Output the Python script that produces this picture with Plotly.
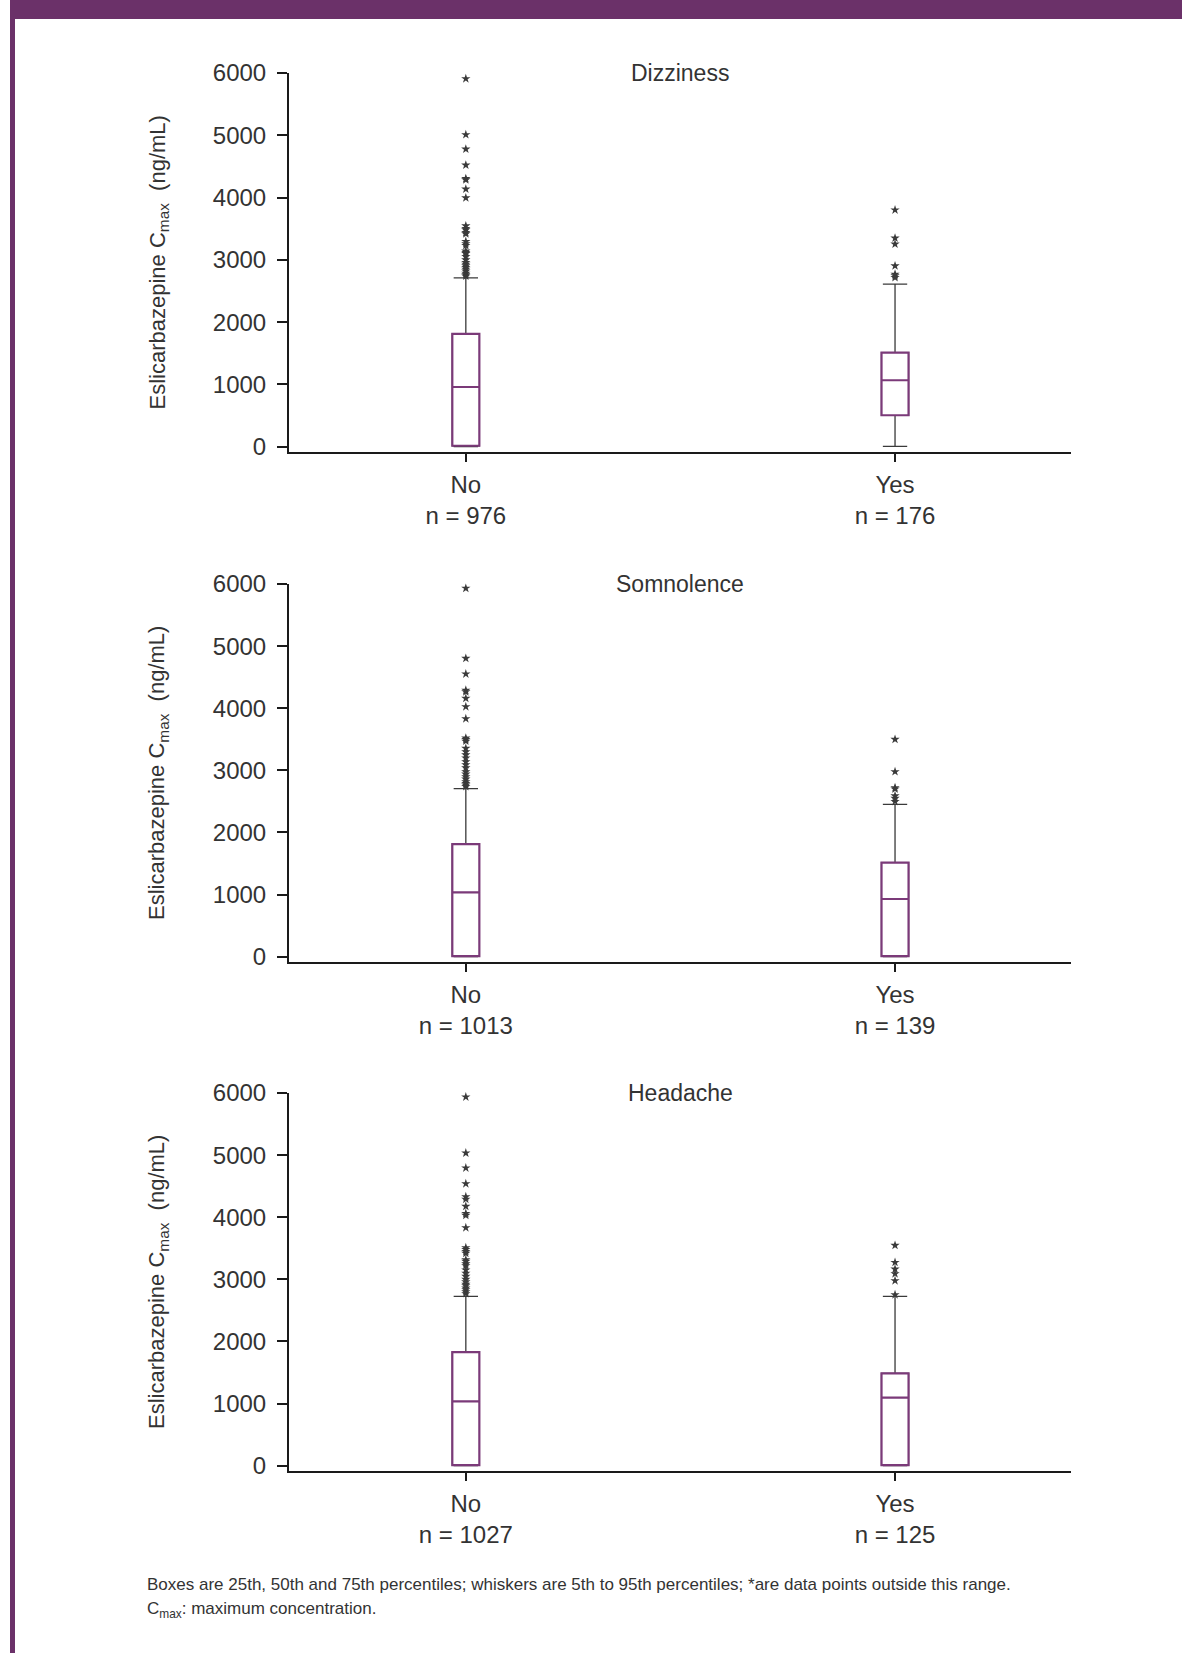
import plotly.graph_objects as go

W, H = 1182, 1653

# ---------------- data ----------------
panel_titles = ["Dizziness", "Somnolence", "Headache"]
groups = ["No", "Yes"]
n_counts = [[976, 176], [1013, 139], [1027, 125]]

# box statistics (ng/mL): [No, Yes] for each panel
p05 = [[0, 5], [0, 0], [0, 0]]
q1 = [[15, 505], [10, 10], [10, 10]]
median = [[959, 1067], [1036, 929], [1035, 1095]]
q3 = [[1811, 1511], [1814, 1514], [1830, 1487]]
p95 = [[2711, 2610], [2705, 2453], [2726, 2726]]

# points outside the 5th-95th percentile range
dizziness_no_out = [5909, 5010, 4779, 4522, 4305, 4285, 4136, 3996, 3546, 3505, 3482,
                    3440, 3418, 3295, 3260, 3230, 3140, 3118, 3100, 3054, 3000, 2957,
                    2930, 2904, 2878, 2850, 2820, 2786, 2760, 2740]
dizziness_yes_out = [3801, 3349, 3253, 2904, 2770, 2745, 2716]
somnolence_no_out = [5931, 4804, 4552, 4290, 4265, 4160, 4025, 3832, 3520, 3495, 3470,
                     3355, 3301, 3250, 3200, 3140, 3090, 3040, 2979, 2940, 2898, 2860,
                     2818, 2790, 2764, 2740]
somnolence_yes_out = [3500, 2979, 2720, 2700, 2590, 2550, 2500]
headache_no_out = [5936, 5034, 4793, 4540, 4330, 4290, 4176, 4060, 4030, 3832, 3510,
                   3480, 3450, 3420, 3317, 3290, 3250, 3220, 3150, 3100, 3049, 3000,
                   2960, 2920, 2898, 2860, 2834, 2800, 2770]
headache_yes_out = [3547, 3273, 3166, 3091, 2978, 2753]
outliers = [[dizziness_no_out, dizziness_yes_out],
            [somnolence_no_out, somnolence_yes_out],
            [headache_no_out, headache_yes_out]]

y_ticks = [0, 1000, 2000, 3000, 4000, 5000, 6000]

# ---------------- style ----------------
FONT = "Liberation Sans, Arial, Helvetica, sans-serif"
TXT = "#333333"
PURPLE = "#6b3169"
BOXC = "#7b3a79"
GREY = "#3a3a3a"

top_px = [73, 584, 1093]
bot_px = [452, 962, 1471]
x_left, x_right = 289, 1071

fig = go.Figure()
layout = dict(
    width=W, height=H, autosize=False,
    margin=dict(l=0, r=0, t=0, b=0, pad=0, autoexpand=False),
    paper_bgcolor="white", plot_bgcolor="white",
    showlegend=False, font=dict(family=FONT, color=TXT, size=24),
    boxmode="overlay",
)
annotations = []

for i in range(3):
    xa = "x" if i == 0 else f"x{i+1}"
    ya = "y" if i == 0 else f"y{i+1}"
    for j in range(2):
        xpos = j
        # whiskers (grey)
        fig.add_trace(go.Box(
            x=[xpos], q1=[q1[i][j]], median=[median[i][j]], q3=[q3[i][j]],
            lowerfence=[p05[i][j]], upperfence=[p95[i][j]],
            width=0.063, whiskerwidth=0.9, boxpoints=False,
            line=dict(color=GREY, width=1.3), fillcolor="white",
            xaxis=xa, yaxis=ya, hoverinfo="skip"))
        # box (purple)
        fig.add_trace(go.Box(
            x=[xpos], q1=[q1[i][j]], median=[median[i][j]], q3=[q3[i][j]],
            lowerfence=[q1[i][j]], upperfence=[q3[i][j]],
            width=0.063, whiskerwidth=0, boxpoints=False,
            line=dict(color=BOXC, width=2.2), fillcolor="white",
            xaxis=xa, yaxis=ya, hoverinfo="skip"))
        # outliers
        fig.add_trace(go.Scatter(
            x=[xpos] * len(outliers[i][j]), y=outliers[i][j], mode="markers",
            marker=dict(symbol="star", size=7, color=GREY, line=dict(width=0)),
            xaxis=xa, yaxis=ya, hoverinfo="skip", cliponaxis=False))

    ydom = [1 - bot_px[i] / H, 1 - top_px[i] / H]
    xkey = "xaxis" if i == 0 else f"xaxis{i+1}"
    ykey = "yaxis" if i == 0 else f"yaxis{i+1}"
    layout[xkey] = dict(
        domain=[x_left / W, x_right / W], range=[-0.412, 1.41], anchor=ya,
        tickmode="array", tickvals=[0, 1],
        ticktext=[f"{g}<br>n = {n}" for g, n in zip(groups, n_counts[i])],
        showline=True, linecolor="#1a1a1a", linewidth=2,
        ticks="outside", ticklen=8, tickwidth=2, tickcolor="#1a1a1a",
        ticklabelstandoff=2, automargin=False,
        showgrid=False, zeroline=False, tickfont=dict(size=24, color=TXT),
        fixedrange=True)
    layout[ykey] = dict(
        domain=ydom, range=[-85, 6000], anchor=xa,
        tickmode="array", tickvals=y_ticks,
        showline=True, linecolor="#1a1a1a", linewidth=2,
        ticks="outside", ticklen=10, tickwidth=2, tickcolor="#1a1a1a",
        ticklabelstandoff=6, automargin=False,
        showgrid=False, zeroline=False, tickfont=dict(size=24, color=TXT),
        fixedrange=True)

    annotations.append(dict(
        text=panel_titles[i], xref="paper", yref="paper",
        x=(x_left + x_right) / 2 / W, y=1 - top_px[i] / H,
        xanchor="center", yanchor="middle", showarrow=False,
        font=dict(size=23, color=TXT, family=FONT)))
    annotations.append(dict(
        text="Eslicarbazepine C<sub>max</sub>  (ng/mL)", xref="paper", yref="paper",
        x=158 / W, y=1 - (top_px[i] + bot_px[i]) / 2 / H,
        xanchor="center", yanchor="middle", textangle=-90, showarrow=False,
        font=dict(size=22, color=TXT, family=FONT)))

annotations.append(dict(
    text="Boxes are 25th, 50th and 75th percentiles; whiskers are 5th to 95th percentiles; *are data points outside this range.",
    xref="paper", yref="paper", x=145 / W, y=1 - 1584 / H,
    xanchor="left", yanchor="middle", showarrow=False,
    font=dict(size=17, color=TXT, family=FONT)))
annotations.append(dict(
    text="C<sub>max</sub>: maximum concentration.",
    xref="paper", yref="paper", x=145 / W, y=1 - 1610 / H,
    xanchor="left", yanchor="middle", showarrow=False,
    font=dict(size=17, color=TXT, family=FONT)))

layout["annotations"] = annotations
layout["shapes"] = [
    dict(type="rect", xref="paper", yref="paper", x0=10 / W, x1=1, y0=1 - 19 / H, y1=1,
         fillcolor=PURPLE, line=dict(width=0), layer="below"),
    dict(type="rect", xref="paper", yref="paper", x0=10 / W, x1=15 / W, y0=0, y1=1,
         fillcolor=PURPLE, line=dict(width=0), layer="below"),
]

fig.update_layout(**layout)

pin_js = (
    "document.documentElement.style.margin='0';"
    "document.body.style.margin='0';"
    "document.body.style.overflow='hidden';"
    "var d=document.getElementById('{plot_id}');"
    "d.style.position='fixed';d.style.top='0px';d.style.left='0px';"
)
fig.write_html("out.html", config={"displayModeBar": False}, post_script=pin_js)
